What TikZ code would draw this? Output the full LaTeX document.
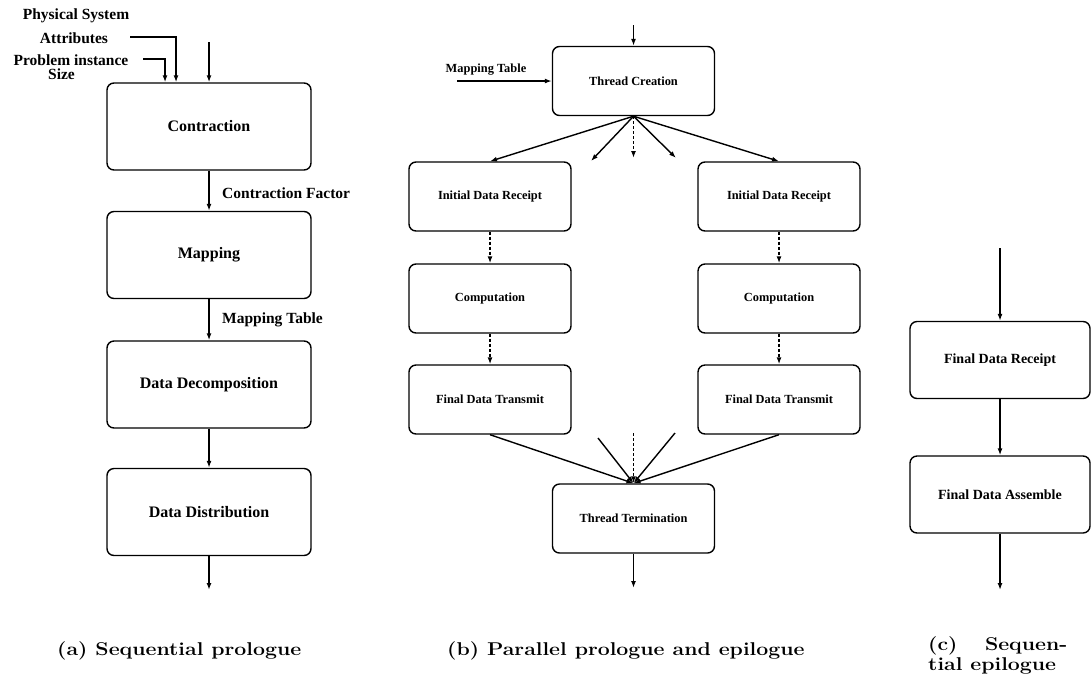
\documentclass[tikz,border=0pt]{standalone}
\usepackage{fontspec}
\newfontfamily\tms{Liberation Serif}
\usetikzlibrary{arrows.meta}

\begin{document}
\begin{tikzpicture}[x=1pt,y=-1pt,
  box/.style={draw, line width=1.4pt, rounded corners=7pt, inner sep=0pt},
  boxa/.style={box, minimum width=204pt, minimum height=87pt, font=\tms\bfseries\fontsize{16}{19}\selectfont},
  boxb/.style={box, minimum width=162pt, minimum height=69pt, font=\tms\bfseries\fontsize{12.4}{15}\selectfont},
  boxc/.style={box, minimum width=180pt, minimum height=77pt, font=\tms\bfseries\fontsize{14}{17}\selectfont},
  lbla/.style={font=\tms\bfseries\fontsize{15.5}{18}\selectfont, inner sep=0pt},
  lblb/.style={font=\tms\bfseries\fontsize{12.4}{15}\selectfont, inner sep=0pt},
  captext/.style={font=\bfseries\fontsize{18.5}{20}\selectfont, inner sep=0pt, anchor=base west},
  arr/.style={line width=1.4pt, -{Latex[length=7pt,width=5pt]}},
  darr/.style={arr, dash pattern=on 3pt off 2pt}]
\useasboundingbox (0,0) rectangle (1091,681);

% (a) sequential prologue
\node[boxa] (contr) at (209,126.5) {Contraction};
\node[boxa] (map) at (209,255) {Mapping};
\node[boxa] (decomp) at (209,384.5) {Data Decomposition};
\node[boxa] (distr) at (209,512) {Data Distribution};
\node[lbla] (phys) at (76,16) {Physical System};
\node[lbla] (attr) at (74,38) {Attributes};
\node[lbla] (prob) at (71,60) {Problem instance};
\node[lbla] (size) at (61.5,74) {Size};
\node[lbla, anchor=west] (cfac) at (222,193) {Contraction Factor};
\node[lbla, anchor=west] (mtabA) at (222,320) {Mapping Table};
\coordinate (attrIn) at (130,37);
\coordinate (probIn) at (143,59);
\coordinate (aIn) at (209,42);
\coordinate (aOut) at (209,590);
\draw[arr] (attrIn) -| ([xshift=-33pt]contr.north);
\draw[arr] (probIn) -| ([xshift=-44pt]contr.north);
\draw[arr] (aIn) -- (contr.north);
\draw[arr] (contr) -- (map);
\draw[arr] (map) -- (decomp);
\draw[arr] (decomp) -- (distr);
\draw[arr] (distr.south) -- (aOut);

% (b) parallel prologue and epilogue
\node[boxb] (tcreate) at (633.5,81) {Thread Creation};
\node[boxb] (idrL) at (490,196.5) {Initial Data Receipt};
\node[boxb] (compL) at (490,298.5) {Computation};
\node[boxb] (fdtL) at (490,399.5) {Final Data Transmit};
\node[boxb] (idrR) at (779,196.5) {Initial Data Receipt};
\node[boxb] (compR) at (779,298.5) {Computation};
\node[boxb] (fdtR) at (779,399.5) {Final Data Transmit};
\node[boxb] (tterm) at (633.5,518.5) {Thread Termination};
\node[lblb] (mtabB) at (486,70) {Mapping Table};
\coordinate (mtIn) at (457,81);
\coordinate (bIn) at (633.5,25);
\coordinate (bOut) at (633.5,588);
\coordinate (f1) at (591,161);
\coordinate (f2) at (633.5,158);
\coordinate (f3) at (676,158);
\coordinate (j1) at (598,438);
\coordinate (j2) at (633.5,433);
\coordinate (j3) at (675,433);
\draw[arr] (bIn) -- (tcreate.north);
\draw[arr] (mtIn) -- (tcreate.west);
\draw[arr] (tcreate.south) -- (idrL.north);
\draw[arr] (tcreate.south) -- (f1);
\draw[darr] (tcreate.south) -- (f2);
\draw[arr] (tcreate.south) -- (f3);
\draw[arr] (tcreate.south) -- (idrR.north);
\draw[darr] (idrL) -- (compL);
\draw[darr] (compL) -- (fdtL);
\draw[darr] (idrR) -- (compR);
\draw[darr] (compR) -- (fdtR);
\draw[arr] (fdtL.south) -- (tterm.north);
\draw[arr] (fdtR.south) -- (tterm.north);
\draw[arr] (j1) -- (tterm.north);
\draw[darr] (j2) -- (tterm.north);
\draw[arr] (j3) -- (tterm.north);
\draw[arr] (tterm.south) -- (bOut);

% (c) sequential epilogue
\node[boxc] (fdrec) at (1000,360) {Final Data Receipt};
\node[boxc] (fdasm) at (1000,494.5) {Final Data Assemble};
\coordinate (cIn) at (1000,248);
\coordinate (cOut) at (1000,590);
\draw[arr] (cIn) -- (fdrec.north);
\draw[arr] (fdrec) -- (fdasm);
\draw[arr] (fdasm.south) -- (cOut);

% captions
\node[captext] (capA) at (57,655) {\scalebox{1.15}[1]{(a) Sequential prologue}};
\node[captext] (capB) at (447,655) {\scalebox{1.15}[1]{(b) Parallel prologue and epilogue}};
\node[captext] (capC) at (928,650) {\scalebox{1.15}[1]{\parbox[t]{121pt}{(c)\hfill Sequen-\\tial epilogue}}};
\end{tikzpicture}
\end{document}
